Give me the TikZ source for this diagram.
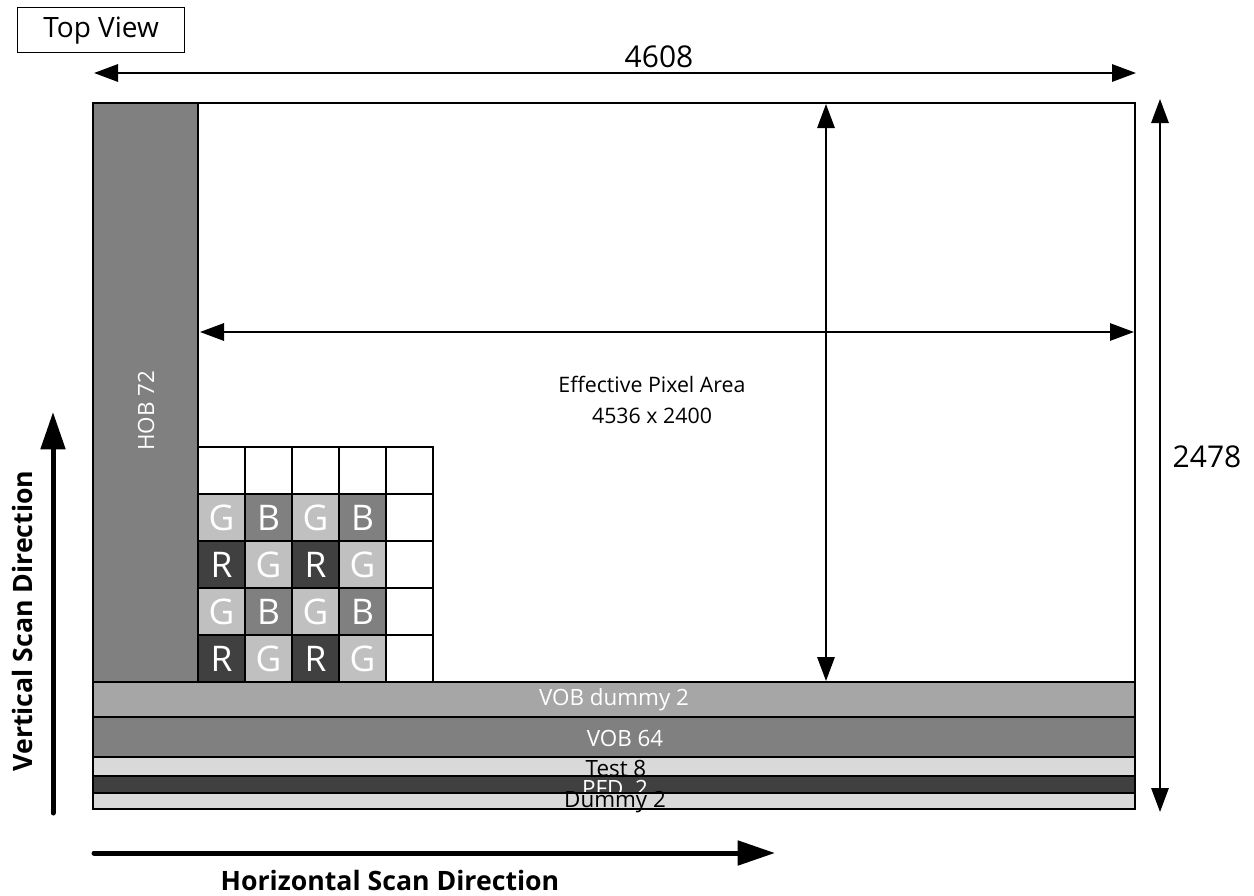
\documentclass[tikz,border=0pt]{standalone}
\usepackage{fontspec}
\setmainfont{Open Sans}
\usetikzlibrary{arrows.meta}
\definecolor{cG}{HTML}{C0C0C0}
\definecolor{cB}{HTML}{808080}
\definecolor{cR}{HTML}{404040}
\definecolor{cW}{HTML}{FFFFFF}
\definecolor{cVD}{HTML}{A6A6A6}
\definecolor{cLt}{HTML}{D9D9D9}
\def\labG{G}\def\labB{B}\def\labR{R}\def\labW{}
\begin{document}
\begin{tikzpicture}[x=0.75pt,y=-0.75pt,
  pw/.style={minimum width=#1*0.75pt},
  ph/.style={minimum height=#1*0.75pt},
  region/.style={draw=black, line width=1.5pt, anchor=north west, inner sep=0pt, outer sep=0pt},
  cell/.style={draw=black, line width=0.9pt, anchor=north west, inner sep=0pt, outer sep=0pt,
    minimum width=47*0.75pt, minimum height=47*0.75pt, text=white, font=\fontsize{26.5}{26.5}\selectfont},
  lbl/.style={font=\fontsize{16.8}{18}\selectfont, inner sep=0pt},
  big/.style={font=\fontsize{22.5}{26}\selectfont, inner sep=0pt},
  dim/.style={line width=1.5pt, {Triangle[length=18pt,width=13pt]}-{Triangle[length=18pt,width=13pt]}},
  scan/.style={line width=3.75pt, line cap=round, -{Triangle[length=28pt,width=18pt]}},
  scanlbl/.style={font=\bfseries\fontsize{20}{22}\selectfont, inner sep=0pt}
]
\useasboundingbox (0,0) rectangle (1254,896);

% Top View box
\node[draw=black, line width=1pt, anchor=north west, pw=167, ph=45, inner sep=0pt, font=\fontsize{21}{24}\selectfont] (topview) at (17,7) {Top View};

% sensor outline and HOB
\node[region, fill=white, pw=1042, ph=579] (sensor) at (93,103) {};
\node[region, fill=cB, pw=105, ph=579] (hob) at (93,103) {};
\node[lbl, text=white, rotate=90] (hobtxt) at (146,411) {HOB 72};

% pixel grid
\foreach \r/\cols in {0/{W,W,W,W,W},1/{G,B,G,B,W},2/{R,G,R,G,W},3/{G,B,G,B,W},4/{R,G,R,G,W}}{
  \foreach \c [count=\i from 0] in \cols {
    \node[cell, fill=c\c] (cell-\r-\i) at (198+47*\i,447+47*\r) {\csname lab\c\endcsname};
  }
}

% bottom strips
\node[region, fill=cVD, pw=1042, ph=35] (vobd) at (93,682) {};
\node[lbl, text=white] (vobdtxt) at (614,700) {VOB dummy 2};
\node[region, fill=cB, pw=1042, ph=40] (vob) at (93,717) {};
\node[lbl, text=white] (vobtxt) at (625,738) {VOB 64};
\node[region, fill=cLt, pw=1042, ph=19] (test) at (93,757) {};
\node[lbl, text=black, anchor=base] (testtxt) at (616,776) {Test 8};
\node[region, fill=cR, pw=1042, ph=17] (pfd) at (93,776) {};
\node[lbl, text=white, anchor=base] (pfdtxt) at (615,796) {PFD\ \ 2};
\node[region, fill=cLt, pw=1042, ph=16] (dummy) at (93,793) {};
\node[lbl, text=black, anchor=base] (dummytxt) at (615,807) {Dummy 2};

% dimension arrows
\coordinate (wl) at (94,73);
\coordinate (wr) at (1136,73);
\draw[dim] (wl) -- (wr);
\node[big] (wtxt) at (659,57) {4608};

\coordinate (ht) at (1160,99);
\coordinate (hb) at (1160,812);
\draw[dim] (ht) -- (hb);
\node[big] (htxt) at (1207,457) {2478};

\coordinate (et) at (826,104);
\coordinate (eb) at (826,681);
\draw[dim] (et) -- (eb);
\coordinate (el) at (200,332);
\coordinate (er) at (1134,332);
\draw[dim] (el) -- (er);
\node[lbl, font=\fontsize{16}{23}\selectfont, align=center] (eptxt) at (652,400) {Effective Pixel Area\\4536 x 2400};

% scan directions
\coordinate (vs0) at (53,813);
\coordinate (vs1) at (53,412);
\draw[scan] (vs0) -- (vs1);
\node[scanlbl, rotate=90] (vstxt) at (22,621) {Vertical Scan Direction};
\coordinate (hs0) at (94,853);
\coordinate (hs1) at (775,853);
\draw[scan] (hs0) -- (hs1);
\node[scanlbl] (hstxt) at (390,880) {Horizontal Scan Direction};
\end{tikzpicture}
\end{document}
